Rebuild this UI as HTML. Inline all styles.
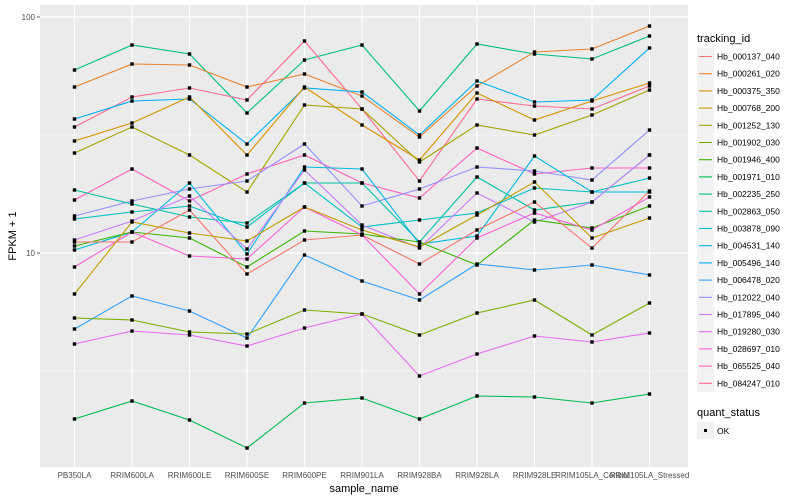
<!DOCTYPE html>
<html><head><meta charset="utf-8"><style>body{margin:0;background:#fff}svg{display:block;font-family:"Liberation Sans",sans-serif}</style></head><body>
<svg id="s" width="800" height="500" xmlns="http://www.w3.org/2000/svg">
<rect x="40" y="5" width="648" height="462" fill="#ebebeb"/>
<g stroke="#fff" stroke-width="0.6"><line x1="40" x2="688" y1="135" y2="135"/><line x1="40" x2="688" y1="371" y2="371"/></g>
<g stroke="#fff" stroke-width="1.2"><line x1="40" x2="688" y1="17" y2="17"/><line x1="40" x2="688" y1="253" y2="253"/>
<line x1="74.5" x2="74.5" y1="5" y2="467"/><line x1="132" x2="132" y1="5" y2="467"/><line x1="189.5" x2="189.5" y1="5" y2="467"/><line x1="247" x2="247" y1="5" y2="467"/><line x1="304.5" x2="304.5" y1="5" y2="467"/><line x1="362" x2="362" y1="5" y2="467"/><line x1="419.5" x2="419.5" y1="5" y2="467"/><line x1="477" x2="477" y1="5" y2="467"/><line x1="534.5" x2="534.5" y1="5" y2="467"/><line x1="592" x2="592" y1="5" y2="467"/><line x1="649.5" x2="649.5" y1="5" y2="467"/></g>
<g id="series" fill="none" stroke-width="1.1"></g>
<g id="pts" fill="#000"></g>
<g font-size="8" fill="#4d4d4d" text-anchor="end"><text x="35" y="20">100</text><text x="35" y="256">10</text></g>
<g stroke="#333" stroke-width="0.8"><line x1="37" x2="40" y1="17" y2="17"/><line x1="37" x2="40" y1="253" y2="253"/></g>
<g font-size="8" fill="#4d4d4d" text-anchor="middle">
<text x="74.5" y="478">PB350LA</text><text x="132" y="478">RRIM600LA</text><text x="189.5" y="478">RRIM600LE</text><text x="247" y="478">RRIM600SE</text><text x="304.5" y="478">RRIM600PE</text><text x="362" y="478">RRIM901LA</text><text x="419.5" y="478">RRIM928BA</text><text x="477" y="478">RRIM928LA</text><text x="534.5" y="478">RRIM928LE</text><text x="592" y="478">RRIM105LA_Control</text><text x="649.5" y="478">RRIM105LA_Stressed</text></g>
<text x="364" y="492" font-size="11" text-anchor="middle">sample_name</text>
<text transform="translate(16,236) rotate(-90)" font-size="11" text-anchor="middle">FPKM + 1</text>
<text x="697" y="42" font-size="11">tracking_id</text>
<g id="leg" font-size="8.5"></g>
<text x="697" y="416" font-size="11">quant_status</text>
<rect x="697" y="422" width="17" height="17" fill="#f2f2f2"/><rect x="704" y="429" width="3" height="3" fill="#000"/>
<text x="717" y="434" font-size="8.5">OK</text>
</svg>
<script>
const X=[74.5,132,189.5,247,304.5,362,419.5,477,534.5,592,649.5];
const S=[
["#00BF7D",[70,45,54,113,60,45,111,44,54,59,36]],
["#EA8331",[87,64,65,87,74,96,137,86,52,49,26]],
["#FF6C91",[127,97,88,100,41,109,181,99,106,109,86]],
["#00B0F6",[119,101,99,144,88,92,135,81,102,100,48]],
["#D89000",[141,123,97,155,87,125,160,93,120,101,83]],
["#A3A500",[153,127,155,192,105,109,162,125,135,115,90]],
["#FF62BC",[200,169,201,174,155,183,198,148,174,168,168]],
["#9590FF",[216,201,189,181,144,206,189,167,171,180,130]],
["#00C1A3",[190,204,217,223,183,183,242,177,210,202,155]],
["#00BFC4",[219,212,206,227,183,227,220,213,188,192,178]],
["#00BAE0",[250,232,183,254,167,169,244,236,156,192,192]],
["#C77CFF",[240,221,196,249,170,225,248,193,222,202,155]],
["#39B600",[246,232,238,267,231,234,242,265,220,228,206]],
["#F8766D",[242,242,210,274,240,235,264,230,202,248,191]],
["#FA62DB",[267,232,256,259,207,235,294,238,213,230,197]],
["#C09B00",[294,222,233,241,207,230,247,215,182,238,218]],
["#35A2FF",[329,296,311,338,255,281,300,264,270,265,275]],
["#7CAE00",[318,320,332,334,310,314,335,313,300,335,303]],
["#E76BF3",[344,331,335,346,328,314,376,354,336,342,333]],
["#00BB4E",[419,401,420,448,403,398,419,396,397,403,394]]
];
const ns="http://www.w3.org/2000/svg";
const g=document.getElementById("series"),p=document.getElementById("pts");
S.forEach(([c,ys])=>{const l=document.createElementNS(ns,"polyline");l.setAttribute("points",ys.map((y,i)=>X[i]+","+y).join(" "));l.setAttribute("stroke",c);g.appendChild(l);
ys.forEach((y,i)=>{const r=document.createElementNS(ns,"rect");r.setAttribute("x",X[i]-1.7);r.setAttribute("y",y-1.7);r.setAttribute("width",3.4);r.setAttribute("height",3.4);p.appendChild(r);});});
const names=["Hb_000137_040","Hb_000261_020","Hb_000375_350","Hb_000768_200","Hb_001252_130","Hb_001902_030","Hb_001946_400","Hb_001971_010","Hb_002235_250","Hb_002863_050","Hb_003878_090","Hb_004531_140","Hb_005496_140","Hb_006478_020","Hb_012022_040","Hb_017895_040","Hb_019280_030","Hb_028697_010","Hb_065525_040","Hb_084247_010"];
const cols=["#F8766D","#EA8331","#D89000","#C09B00","#A3A500","#7CAE00","#39B600","#00BB4E","#00BF7D","#00C1A3","#00BFC4","#00BAE0","#00B0F6","#35A2FF","#9590FF","#C77CFF","#E76BF3","#FA62DB","#FF62BC","#FF6C91"];
const L=document.getElementById("leg");
names.forEach((n,i)=>{const y=48+i*17.2;
L.insertAdjacentHTML("beforeend",`<rect x="697" y="${y}" width="17" height="17" fill="#f2f2f2"/><line x1="699" x2="712" y1="${y+8.5}" y2="${y+8.5}" stroke="${cols[i]}" stroke-width="1.1"/><text x="717" y="${y+11.5}">${n}</text>`);});
</script>
</body></html>
